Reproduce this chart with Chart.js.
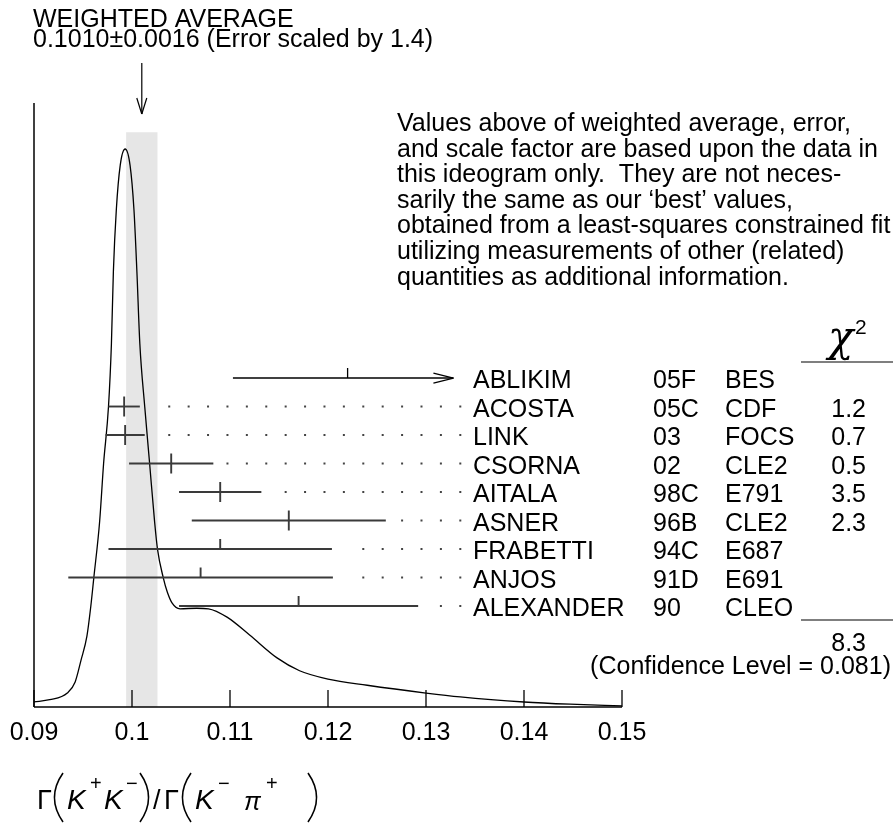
<!DOCTYPE html>
<html>
<head>
<meta charset="utf-8">
<script src="https://cdn.jsdelivr.net/npm/chart.js@4.4.0/dist/chart.umd.min.js"></script>
<style>
  html, body { margin: 0; padding: 0; background: #fff; }
  canvas { display: block; }
</style>
</head>
<body>
<canvas id="ideogram" width="893" height="823"></canvas>
<script>
// measurements, top to bottom
const authors = ['ABLIKIM', 'ACOSTA', 'LINK', 'CSORNA', 'AITALA', 'ASNER', 'FRABETTI', 'ANJOS', 'ALEXANDER'];
const years = ['05F', '05C', '03', '02', '98C', '96B', '94C', '91D', '90'];
const experiments = ['BES', 'CDF', 'FOCS', 'CLE2', 'E791', 'CLE2', 'E687', 'E691', 'CLEO'];
const values = [0.122, 0.0992, 0.0993, 0.1040, 0.109, 0.1160, 0.109, 0.107, 0.117];
const errors = [0.0117, 0.0016, 0.0020, 0.0043, 0.0042, 0.0099, 0.0114, 0.0135, 0.0122];
const chi2 = ['', '1.2', '0.7', '0.5', '3.5', '2.3', '', '', ''];
const usedInAverage = [false, true, true, true, true, true, false, false, false];

// ideogram curve (relative height, peak = 1)
const curveX = [0.0900, 0.0916, 0.0934, 0.0942, 0.0948, 0.0954, 0.0958, 0.0961, 0.0967, 0.0971,
                0.0976, 0.0979, 0.0981, 0.0984, 0.0988, 0.0993, 0.0998, 0.1002, 0.1005, 0.1008,
                0.1013, 0.1018, 0.1023, 0.1026, 0.1032, 0.1036, 0.1041, 0.1049, 0.1066, 0.1078,
                0.1097, 0.1120, 0.1148, 0.1171, 0.1200, 0.1240, 0.1300, 0.1335, 0.1400, 0.1447, 0.1500];
const curveY = [0.009, 0.013, 0.025, 0.045, 0.084, 0.127, 0.181, 0.231, 0.333, 0.436,
                0.538, 0.651, 0.780, 0.891, 0.971, 1.000, 0.971, 0.891, 0.780, 0.651,
                0.538, 0.436, 0.333, 0.283, 0.231, 0.206, 0.186, 0.176, 0.177, 0.176,
                0.161, 0.129, 0.088, 0.065, 0.050, 0.039, 0.025, 0.018, 0.009, 0.005, 0.002];

const xTicks = [0.09, 0.10, 0.11, 0.12, 0.13, 0.14, 0.15];
const xTickLabels = ['0.09', '0.1', '0.11', '0.12', '0.13', '0.14', '0.15'];

const average = 0.1010;
const averageError = 0.0016;
const chi2Total = '8.3';
const confidenceLevel = '(Confidence Level = 0.081)';

const notes = [
    'Values above of weighted average, error,',
    'and scale factor are based upon the data in',
    'this ideogram only.  They are not neces-',
    'sarily the same as our \u2018best\u2019 values,',
    'obtained from a least-squares constrained fit',
    'utilizing measurements of other (related)',
    'quantities as additional information.'
];

const FONT = '"Liberation Sans", Arial, Helvetica, sans-serif';
const arrowLimit = 0.1328;   // bars running past this end in an arrow
const dotStart = 0.1038;     // leader dots grid
const dotStep = 0.00198;

function line(ctx, x1, y1, x2, y2) {
    ctx.beginPath();
    ctx.moveTo(x1, y1);
    ctx.lineTo(x2, y2);
    ctx.stroke();
}

// tall thin bracket, like the typeset one
function paren(ctx, x, top, bottom, open) {
    const w = 9;
    const mid = (top + bottom) / 2;
    ctx.beginPath();
    if (open) {
        ctx.moveTo(x + w, top);
        ctx.quadraticCurveTo(x - w * 0.9, mid, x + w, bottom);
    } else {
        ctx.moveTo(x, top);
        ctx.quadraticCurveTo(x + w * 1.9, mid, x, bottom);
    }
    ctx.stroke();
}

const ideogramPlugin = {
    id: 'ideogram',
    beforeDatasetsDraw(chart) {
        const { ctx, chartArea, scales: { x, y } } = chart;
        const l = x.getPixelForValue(average - averageError);
        const r = x.getPixelForValue(average + averageError);
        const t = y.getPixelForValue(1.03);
        ctx.save();
        ctx.fillStyle = '#e6e6e6';
        ctx.fillRect(l, t, r - l, chartArea.bottom - t);
        ctx.restore();
    },
    afterDatasetsDraw(chart) {
        const { ctx, chartArea, scales: { x, rows } } = chart;
        const bottom = chartArea.bottom;
        ctx.save();

        // axes
        ctx.strokeStyle = '#000';
        ctx.lineWidth = 1.5;
        line(ctx, chartArea.left, chartArea.top, chartArea.left, bottom);
        line(ctx, chartArea.left, bottom, chartArea.right, bottom);
        ctx.lineWidth = 1.3;
        ctx.fillStyle = '#000';
        ctx.font = '25px ' + FONT;
        ctx.textAlign = 'center';
        ctx.textBaseline = 'alphabetic';
        xTicks.forEach((v, i) => {
            const px = x.getPixelForValue(v);
            line(ctx, px, bottom, px, bottom - 17);
            ctx.fillText(xTickLabels[i], px, bottom + 33);
        });

        // arrow to the weighted average
        const ax = x.getPixelForValue(average);
        ctx.lineWidth = 1.2;
        line(ctx, ax, chartArea.top - 40, ax, chartArea.top + 11);
        line(ctx, ax - 5, chartArea.top - 5, ax, chartArea.top + 11);
        line(ctx, ax + 5, chartArea.top - 5, ax, chartArea.top + 11);

        // header
        ctx.textAlign = 'left';
        ctx.fillText('WEIGHTED AVERAGE', 33, 27);
        ctx.fillText('0.1010\u00b10.0016 (Error scaled by 1.4)', 33, 47);

        notes.forEach((s, i) => ctx.fillText(s, 397, 131 + i * 25.6));

        // measurements
        values.forEach((v, i) => {
            const py = rows.getPixelForValue(i);
            const left = x.getPixelForValue(v - errors[i]);
            const arrow = v + errors[i] > arrowLimit;
            const right = x.getPixelForValue(arrow ? arrowLimit : v + errors[i]);
            const cx = x.getPixelForValue(v);
            ctx.strokeStyle = arrow ? '#000' : '#3a3a3a';
            ctx.lineWidth = arrow ? 1.3 : 1.9;
            line(ctx, left, py, right, py);
            if (usedInAverage[i]) {
                line(ctx, cx, py - 10, cx, py + 10);
            } else {
                line(ctx, cx, py - 10, cx, py);
            }
            if (arrow) {
                line(ctx, right - 20, py - 5, right, py);
                line(ctx, right - 20, py + 5, right, py);
            } else {
                ctx.fillStyle = '#444';
                for (let k = 0; k < 16; k++) {
                    const dx = x.getPixelForValue(dotStart + k * dotStep);
                    if (dx > right + 12) ctx.fillRect(dx - 1, py - 1, 2, 2);
                }
            }
            ctx.fillStyle = '#000';
            ctx.font = '25px ' + FONT;
            ctx.textAlign = 'left';
            ctx.fillText(authors[i], 473, py + 10);
            ctx.fillText(years[i], 653, py + 10);
            ctx.fillText(experiments[i], 725, py + 10);
            ctx.textAlign = 'right';
            ctx.fillText(chi2[i], 866, py + 10);
        });

        // chi2 column
        const firstRow = rows.getPixelForValue(0);
        const lastRow = rows.getPixelForValue(values.length - 1);
        ctx.strokeStyle = '#000';
        ctx.lineWidth = 1.2;
        line(ctx, 801, firstRow - 16, 893, firstRow - 16);
        line(ctx, 801, lastRow + 14, 893, lastRow + 14);
        ctx.textAlign = 'left';
        ctx.font = 'italic 42px "DejaVu Serif", "Liberation Serif", serif';
        ctx.fillText('\u03c7', 828, firstRow - 27);
        ctx.font = '21px ' + FONT;
        ctx.fillText('2', 855, firstRow - 44);
        ctx.font = '25px ' + FONT;
        ctx.textAlign = 'right';
        ctx.fillText(chi2Total, 866, lastRow + 45);
        ctx.fillText(confidenceLevel, 891, lastRow + 68);

        // axis title  Γ(K+K−)/Γ(K−π+)
        ctx.textAlign = 'left';
        const reg = '27px ' + FONT, ital = 'italic 28px ' + FONT;
        const sup = '20px ' + FONT;
        const base = 809, supBase = 790;
        const pieces = [
            ['\u0393', reg, 37, base], ['K', ital, 67, base], ['+', sup, 90, supBase],
            ['K', ital, 104, base], ['\u2212', sup, 126, supBase], ['/', reg, 153, base],
            ['\u0393', reg, 164, base], ['K', ital, 195, base], ['\u2212', sup, 218, supBase],
            ['\u03c0', 'italic 25px ' + FONT, 244, base + 1], ['+', sup, 266, supBase]
        ];
        pieces.forEach(([t, f, px, py]) => {
            ctx.font = f;
            ctx.fillText(t, px, py);
        });
        ctx.lineWidth = 1.6;
        paren(ctx, 54, 773, 822, true);
        paren(ctx, 140, 773, 822, false);
        paren(ctx, 182, 773, 822, true);
        paren(ctx, 308, 773, 822, false);
        ctx.restore();
    }
};

const ctx = document.getElementById('ideogram').getContext('2d');

new Chart(ctx, {
    type: 'line',
    data: {
        datasets: [{
            data: curveX.map((v, i) => ({ x: v, y: curveY[i] })),
            borderColor: '#000',
            borderWidth: 1.3,
            pointRadius: 0,
            fill: false,
            cubicInterpolationMode: 'monotone'
        }]
    },
    options: {
        responsive: false,
        animation: false,
        events: [],
        layout: { padding: { left: 34, right: 271, top: 103, bottom: 116 } },
        scales: {
            x: { type: 'linear', min: 0.09, max: 0.15, display: false },
            y: { type: 'linear', min: 0, max: 1.0824, display: false },
            rows: { type: 'linear', axis: 'y', min: -9.65, max: 11.544, reverse: true, display: false }
        },
        plugins: {
            legend: { display: false },
            tooltip: { enabled: false }
        }
    },
    plugins: [ideogramPlugin]
});
</script>
</body>
</html>
